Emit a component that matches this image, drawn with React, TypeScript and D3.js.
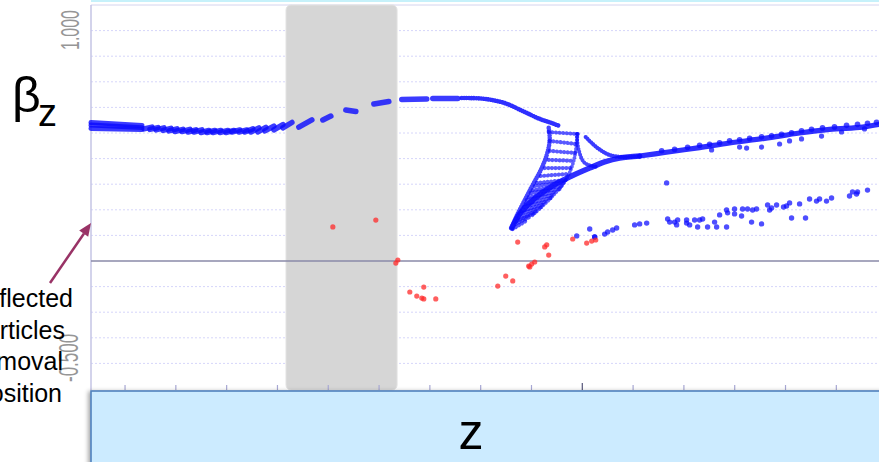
import React from 'react';
import * as d3 from 'd3';

const W = 879;
const H = 462;

// axis values
const Y_DOMAIN: [number, number] = [-0.5, 1.0];
const X_DOMAIN: [number, number] = [0.33, 15.84];
const Y_LABELS = ['1.000', '-0.500'];
const Y_GRID = [1.0, 0.9, 0.8, 0.7, 0.6, 0.5, 0.4, 0.3, 0.2, 0.1, -0.1, -0.2, -0.3, -0.4];
const X_TICKS = [1, 2, 3, 4, 5, 6, 7, 8, 9, 10, 11, 12, 13, 14, 15];
const X_MAJOR = 10;
const REMOVAL_BAND = [4.169, 6.354];
const ANNOTATION = ['Deflected', 'particles', 'at removal', 'position'];

// Blue: thick band at the start (z, beta pairs)
const TRACE_BAND: [number, number][][] = [
  [[0.33, 0.541], [1.333, 0.529]],
  [[0.33, 0.531], [1.333, 0.521]],
  [[0.33, 0.518], [1.333, 0.514]],
];

// Blue: bunched dashes [z1, b1, z2, b2]
const TRACE_A_DASHES: number[][] = [
  [1.373, 0.516, 1.530, 0.523], [1.491, 0.514, 1.648, 0.521], [1.609, 0.512, 1.766, 0.520],
  [1.746, 0.510, 1.904, 0.518], [1.864, 0.508, 2.022, 0.516], [1.982, 0.506, 2.140, 0.514],
  [2.120, 0.506, 2.277, 0.514], [2.238, 0.504, 2.395, 0.512], [2.356, 0.504, 2.513, 0.512],
  [2.494, 0.502, 2.651, 0.510], [2.612, 0.502, 2.769, 0.510], [2.730, 0.502, 2.887, 0.510],
  [2.867, 0.502, 3.025, 0.510], [2.985, 0.502, 3.143, 0.510], [3.103, 0.504, 3.261, 0.512],
  [3.241, 0.504, 3.399, 0.512], [3.359, 0.504, 3.517, 0.516], [3.477, 0.504, 3.635, 0.520],
  [3.615, 0.504, 3.772, 0.522], [3.753, 0.508, 3.930, 0.527], [3.930, 0.512, 4.107, 0.533],
  [4.107, 0.520, 4.284, 0.541], [4.421, 0.523, 4.677, 0.551], [4.893, 0.551, 5.051, 0.566],
  [5.346, 0.590, 5.543, 0.584], [5.897, 0.613, 6.192, 0.623], [6.447, 0.631, 6.939, 0.633],
  [7.057, 0.635, 7.549, 0.635],
];

// Blue: continuous arc into the fan
const TRACE_A_CURVE: [number, number][] = [
  [7.628, 0.637], [7.982, 0.635], [8.218, 0.629], [8.473, 0.617], [8.827, 0.586],
  [9.162, 0.555], [9.398, 0.539], [9.555, 0.527],
];

// Blue: fan ribs [z1, b1, z2, b2]
const FAN_RIBS: number[][] = [
  [9.339, 0.504, 9.909, 0.496], [9.359, 0.469, 9.890, 0.457], [9.359, 0.430, 9.870, 0.422],
  [9.339, 0.395, 9.831, 0.391], [9.260, 0.363, 9.791, 0.363], [9.182, 0.332, 9.732, 0.340],
  [9.103, 0.305, 9.673, 0.316], [9.063, 0.293, 9.634, 0.305], [9.024, 0.277, 9.595, 0.293],
  [8.985, 0.266, 9.555, 0.281], [8.945, 0.250, 9.496, 0.270], [8.906, 0.238, 9.437, 0.258],
  [8.886, 0.223, 9.378, 0.246], [8.847, 0.211, 9.319, 0.234], [8.808, 0.195, 9.260, 0.223],
  [8.768, 0.184, 9.201, 0.211], [8.749, 0.168, 9.142, 0.199], [8.709, 0.156, 9.063, 0.188],
  [8.690, 0.145, 9.004, 0.176], [8.631, 0.125, 8.886, 0.156],
];

// Blue: fan outlines
const FAN_LEFT_EDGE: [number, number][] = [
  [9.339, 0.520], [9.359, 0.473], [9.300, 0.414], [9.182, 0.355], [9.024, 0.297],
  [8.847, 0.230], [8.690, 0.168], [8.611, 0.129],
];
const FAN_LOWER_EDGE: [number, number][] = [
  [8.611, 0.129], [8.768, 0.184], [9.004, 0.234], [9.260, 0.273], [9.516, 0.305],
  [9.791, 0.332], [10.145, 0.363], [10.440, 0.387], [10.735, 0.402], [11.129, 0.410],
];
const FAN_RIGHT_EDGE: [number, number][] = [
  [9.909, 0.496], [9.831, 0.391], [9.673, 0.316], [9.378, 0.246], [9.004, 0.176],
];
const FAN_INNER_1: [number, number][] = [
  [9.890, 0.496], [9.929, 0.434], [10.047, 0.383], [10.303, 0.367],
];
const FAN_INNER_2: [number, number][] = [
  [10.067, 0.484], [10.303, 0.441], [10.539, 0.414], [10.834, 0.406], [11.129, 0.410],
];

// Blue: rising trace after the fan
const TRACE_B: [number, number][] = [
  [11.129, 0.410], [11.621, 0.424], [12.309, 0.443], [12.899, 0.461], [13.588, 0.479],
  [14.276, 0.500], [14.866, 0.514], [15.515, 0.523], [15.830, 0.533],
];
const TRACE_B_BUMPS: [number, number][] = [
  [11.562, 0.434], [11.817, 0.439], [12.073, 0.447], [12.309, 0.455], [12.506, 0.459],
  [12.702, 0.465], [12.899, 0.473], [13.096, 0.477], [13.293, 0.482], [13.529, 0.488],
  [13.725, 0.492], [13.922, 0.498], [14.119, 0.504], [14.315, 0.512], [14.512, 0.518],
  [14.728, 0.523], [14.964, 0.527], [15.201, 0.533], [15.417, 0.537], [15.614, 0.541],
  [15.791, 0.545],
];
const TRACE_B_LOWER: [number, number][] = [
  [12.545, 0.434], [13.096, 0.445], [13.234, 0.441], [13.529, 0.445], [13.883, 0.457],
  [14.079, 0.469], [14.315, 0.477], [14.709, 0.488], [15.103, 0.504], [15.555, 0.516],
];

// Blue: lower scattered branch
const BRANCH_DOTS: [number, number][] = [
  [9.890, 0.098], [10.146, 0.125], [10.244, 0.094], [10.244, 0.094], [10.440, 0.105],
  [10.499, 0.113], [10.598, 0.121], [10.676, 0.129], [11.030, 0.141], [11.129, 0.145],
  [11.267, 0.148], [11.660, 0.305], [11.680, 0.164], [11.720, 0.152], [11.817, 0.152],
  [11.857, 0.141], [11.877, 0.160], [12.053, 0.160], [12.053, 0.148], [12.113, 0.141],
  [12.211, 0.160], [12.309, 0.160], [12.368, 0.164], [12.270, 0.133], [12.466, 0.133],
  [12.604, 0.152], [12.644, 0.133], [12.703, 0.180], [12.840, 0.133], [12.840, 0.199],
  [12.860, 0.188], [12.997, 0.203], [12.997, 0.184], [13.135, 0.176], [13.155, 0.203],
  [13.253, 0.203], [13.332, 0.152], [13.352, 0.199], [13.430, 0.203], [13.529, 0.145],
  [13.647, 0.219], [13.687, 0.199], [13.726, 0.207], [13.824, 0.219], [13.961, 0.211],
  [14.020, 0.215], [14.080, 0.227], [14.119, 0.168], [14.277, 0.223], [14.394, 0.168],
  [14.473, 0.242], [14.610, 0.234], [14.670, 0.242], [14.807, 0.234], [14.906, 0.246],
  [15.260, 0.254], [15.319, 0.270], [15.417, 0.270], [15.398, 0.262], [15.614, 0.277],
];

// Red: deflected particles
const RED_DOTS: [number, number][] = [
  [5.090, 0.133], [5.936, 0.160], [6.369, 0.004], [6.330, -0.008], [6.605, -0.121],
  [6.742, -0.137], [6.841, -0.145], [6.880, -0.148], [6.880, -0.102], [7.116, -0.148],
  [8.336, -0.098], [8.493, -0.059], [8.631, -0.078], [8.729, 0.074], [8.945, -0.020],
  [9.004, -0.012], [9.063, -0.004], [8.966, -0.023], [9.260, 0.055], [9.300, 0.063],
  [9.339, 0.023], [9.811, 0.086], [10.086, 0.070], [10.185, 0.078], [10.264, 0.082],
];

const FONT = 'Liberation Sans, Arial, sans-serif';

export default function App() {
  const x = d3.scaleLinear().domain(X_DOMAIN).range([91, 879]);
  const y = d3.scaleLinear().domain(Y_DOMAIN).range([389, 5]);
  const line = d3
    .line<[number, number]>()
    .x((d) => x(d[0]))
    .y((d) => y(d[1]))
    .curve(d3.curveCatmullRom);
  const seg = (s: number[]) => line([[s[0], s[1]], [s[2], s[3]]]) || '';

  const blue = '#0a0aff';
  const plotBottom = y(Y_DOMAIN[0]) + 1;

  return (
    <div style={{ position: 'absolute', left: 0, top: 0 }}>
      <svg width={W} height={H} style={{ display: 'block', background: '#fff' }}>
        <defs>
          <filter id="shadow" x="-5%" y="-20%" width="110%" height="140%">
            <feDropShadow dx={-2} dy={1} stdDeviation={2} floodColor="#000" floodOpacity={0.35} />
          </filter>
        </defs>

        {/* top strip */}
        <rect x={91} y={0} width={W - 91} height={2} fill="#c6f1fa" />

        {/* grid */}
        {Y_GRID.map((v) => (
          <line
            key={v}
            x1={x(X_DOMAIN[0])}
            x2={W}
            y1={y(v)}
            y2={y(v)}
            stroke={v === 1 ? '#d4d4ee' : '#d6d6fa'}
            strokeWidth={1}
            strokeDasharray={v === 1 ? undefined : '2,2'}
          />
        ))}

        {/* removal band */}
        <rect
          x={x(REMOVAL_BAND[0])}
          y={y(Y_DOMAIN[1])}
          width={x(REMOVAL_BAND[1]) - x(REMOVAL_BAND[0])}
          height={plotBottom - y(Y_DOMAIN[1])}
          rx={5}
          fill="#d6d6d6"
          stroke="#e2e2e2"
        />

        {/* y axis line */}
        <line x1={91} x2={91} y1={y(1)} y2={plotBottom} stroke="#c4c4e4" strokeWidth={1.5} />
        {/* zero line */}
        <line x1={91} x2={W} y1={y(0)} y2={y(0)} stroke="#8a8aa8" strokeWidth={1.5} />

        {/* x ticks */}
        {X_TICKS.map((t) => (
          <line
            key={t}
            x1={x(t)}
            x2={x(t)}
            y1={t === X_MAJOR ? 383 : 385}
            y2={plotBottom}
            stroke={t === X_MAJOR ? '#55557a' : '#a8a8d4'}
            strokeWidth={1.2}
          />
        ))}

        {/* y labels */}
        <text
          transform={`translate(79, 10) rotate(-90) scale(1,1.6)`}
          textAnchor="end"
          fontSize={16}
          fontFamily={FONT}
          fill="#969696"
        >
          {Y_LABELS[0]}
        </text>
        <text
          transform={`translate(78, 382) rotate(-90) scale(1,1.6)`}
          textAnchor="start"
          fontSize={17}
          fontFamily={FONT}
          fill="#969696"
        >
          {Y_LABELS[1]}
        </text>

        {/* blue traces */}
        <g fill="none" stroke={blue} strokeLinecap="round" strokeLinejoin="round" strokeOpacity={0.8}>
          {TRACE_BAND.map((s, i) => (
            <path key={'b' + i} d={line(s) || ''} strokeWidth={5} />
          ))}
          {TRACE_A_DASHES.map((s, i) => (
            <path key={'d' + i} d={seg(s)} strokeWidth={5.5} />
          ))}
          <path d={line(TRACE_A_CURVE) || ''} strokeWidth={4.6} strokeDasharray="0.01,2.4" strokeOpacity={0.85} />
          {FAN_RIBS.map((s, i) => (
            <path key={'r' + i} d={seg(s)} strokeWidth={4.2} strokeOpacity={0.68} strokeDasharray="0.01,3.6" />
          ))}
          <path d={line(FAN_LEFT_EDGE) || ''} strokeWidth={4.6} strokeOpacity={0.75} strokeDasharray="0.01,2.5" />
          <path d={line(FAN_LOWER_EDGE) || ''} strokeWidth={5.5} strokeOpacity={0.85} />
          <path d={line(FAN_RIGHT_EDGE) || ''} strokeWidth={3.8} strokeOpacity={0.65} strokeDasharray="0.01,3" />
          <path d={line(FAN_INNER_1) || ''} strokeWidth={4} strokeOpacity={0.75} strokeDasharray="0.01,3" />
          <path d={line(FAN_INNER_2) || ''} strokeWidth={4.2} strokeOpacity={0.8} strokeDasharray="0.01,2.6" />
          <path d={line(TRACE_B) || ''} strokeWidth={5.2} strokeOpacity={0.85} />
        </g>
        <g fill={blue} fillOpacity={0.72}>
          {TRACE_B_BUMPS.map((d, i) => (
            <circle key={'u' + i} cx={x(d[0])} cy={y(d[1]) + 0.8} r={2.8} />
          ))}
          {TRACE_B_LOWER.map((d, i) => (
            <circle key={'l' + i} cx={x(d[0])} cy={y(d[1])} r={2.6} />
          ))}
          {BRANCH_DOTS.map((d, i) => (
            <circle key={'p' + i} cx={x(d[0])} cy={y(d[1])} r={2.7} />
          ))}
        </g>
        <g fill="#ff2a2a" fillOpacity={0.75}>
          {RED_DOTS.map((d, i) => (
            <circle key={'q' + i} cx={x(d[0])} cy={y(d[1])} r={2.6} />
          ))}
        </g>

        {/* axis title box */}
        <rect
          x={91}
          y={391}
          width={W}
          height={90}
          fill="#ccebff"
          stroke="#4f81bd"
          strokeWidth={1.6}
          filter="url(#shadow)"
        />
        <text x={471} y={449} textAnchor="middle" fontSize={50} fontFamily={FONT} fill="#000">
          z
        </text>

        {/* beta_z label */}
        <text x={12} y={112} fontFamily={FONT} fill="#000">
          <tspan fontSize={50}>β</tspan>
        </text>
        <text x={38} y={126} fontFamily={FONT} fontSize={38} fill="#000">
          z
        </text>

        {/* annotation */}
        {ANNOTATION.map((t, i) => (
          <text
            key={t}
            x={[73, 65, 63, 62][i]}
            y={[307, 339, 370, 402][i]}
            textAnchor="end"
            fontSize={25}
            fontFamily={FONT}
            fill="#000"
          >
            {t}
          </text>
        ))}
        <line x1={50} y1={283} x2={84} y2={233.5} stroke="#993366" strokeWidth={2.5} />
        <path d="M91,223 L88.2,236.8 L79.2,230.6 Z" fill="#993366" />
      </svg>
    </div>
  );
}
